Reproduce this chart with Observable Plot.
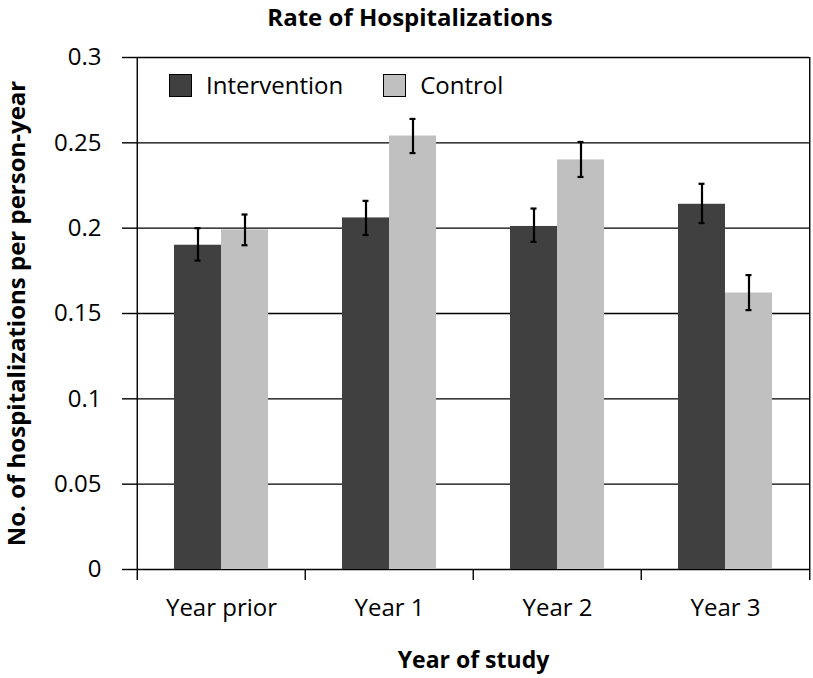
<!DOCTYPE html>
<html><head><meta charset="utf-8">
<script src="https://cdn.jsdelivr.net/npm/d3@7"></script>
<script src="https://cdn.jsdelivr.net/npm/@observablehq/plot@0.6"></script>
<style>
body{margin:0;background:#fff;font-family:"Open Sans",sans-serif;color:#000;}
#wrap{position:relative;width:813px;height:678px;overflow:hidden;}
#title{position:absolute;left:0;top:2px;width:813px;box-sizing:border-box;padding-left:7px;text-align:center;font-weight:bold;font-size:24px;line-height:30px;}
#legend{position:absolute;left:169px;top:72px;display:flex;align-items:center;font-size:24px;line-height:26px;}
.sw{width:21px;height:21px;border:1.5px solid #000;margin-right:14px;}
.item{display:flex;align-items:center;margin-right:40px;}
</style></head><body>
<div id="wrap"><div id="chart"></div><div id="title">Rate of Hospitalizations</div><div id="legend"></div></div>
<script>
const categories = ["Year prior", "Year 1", "Year 2", "Year 3"];
const series = ["Intervention", "Control"];
const intervention = [0.190, 0.206, 0.201, 0.214];
const control = [0.199, 0.254, 0.240, 0.162];
const interventionLow = [0.181, 0.196, 0.192, 0.203];
const interventionHigh = [0.200, 0.216, 0.2115, 0.226];
const controlLow = [0.190, 0.244, 0.230, 0.152];
const controlHigh = [0.208, 0.264, 0.2505, 0.1725];
const yTicks = [0, 0.05, 0.1, 0.15, 0.2, 0.25, 0.3];
const yTickLabels = ["0", "0.05", "0.1", "0.15", "0.2", "0.25", "0.3"];
const colors = ["#404040", "#c0c0c0"];
const yLabel = "No. of hospitalizations per person-year";
const xLabel = "Year of study";

const data = categories.flatMap((c, i) => [
  {year: c, group: series[0], value: intervention[i], lo: interventionLow[i], hi: interventionHigh[i]},
  {year: c, group: series[1], value: control[i], lo: controlLow[i], hi: controlHigh[i]}
]);

const W = 813, H = 678, mL = 136, mR = 3, mT = 57, mB = 109;
const band = (W - mL - mR) / categories.length;
const font = '"Open Sans", sans-serif';

const chart = Plot.plot({
  width: W, height: H,
  marginLeft: mL, marginRight: mR, marginTop: mT, marginBottom: mB,
  style: {fontFamily: font, fontSize: "24px", color: "#000", background: "#fff", overflow: "visible"},
  fx: {domain: categories, padding: 0, axis: null, label: null},
  x: {domain: series, paddingInner: 0, paddingOuter: 0.76, axis: null, label: null},
  y: {domain: [0, 0.3], axis: null, label: null},
  color: {domain: series, range: colors},
  marks: [
    Plot.gridY({ticks: yTicks, stroke: "#000", strokeOpacity: 1, strokeWidth: 1.4}),
    Plot.barY(data, {fx: "year", x: "group", y: "value", fill: "group"}),
    Plot.ruleX(data, {fx: "year", x: "group", y1: "lo", y2: "hi", stroke: "#000", strokeWidth: 2.2}),
    Plot.tickY(data, {fx: "year", x: "group", y: "lo", stroke: "#000", strokeWidth: 2.2, insetLeft: 20.5, insetRight: 20.5}),
    Plot.tickY(data, {fx: "year", x: "group", y: "hi", stroke: "#000", strokeWidth: 2.2, insetLeft: 20.5, insetRight: 20.5}),
    Plot.gridFx({ticks: [categories[0]], dx: -band / 2, stroke: "#000", strokeOpacity: 1, strokeWidth: 1.4}),
    Plot.gridFx({ticks: [categories[categories.length - 1]], dx: band / 2, stroke: "#000", strokeOpacity: 1, strokeWidth: 1.4}),
    Plot.axisFx({anchor: "bottom", ticks: categories, tickSize: 11, dx: -band / 2, tickFormat: () => "", label: null, strokeWidth: 1.4}),
    Plot.axisFx({anchor: "bottom", ticks: [categories[categories.length - 1]], tickSize: 11, dx: band / 2, tickFormat: () => "", label: null, strokeWidth: 1.4}),
    Plot.axisFx({anchor: "bottom", ticks: categories, tickSize: 0, tickPadding: 29, fontSize: 24, label: null}),
    Plot.axisFx({anchor: "bottom", ticks: [], label: xLabel, labelAnchor: "center", labelOffset: 98, labelArrow: "none", fontWeight: "bold", fontSize: 23}),
    Plot.axisY({ticks: yTicks, tickFormat: d => yTickLabels[yTicks.indexOf(d)], tickSize: 15, tickPadding: 21, strokeWidth: 1.4, fontSize: 24, label: null}),
    Plot.axisY({ticks: [], label: yLabel, labelAnchor: "center", labelOffset: 130, labelArrow: "none", fontWeight: "bold", fontSize: 24})
  ]
});
document.getElementById("chart").appendChild(chart);

const legend = d3.select("#legend");
series.forEach((s, i) => {
  const item = legend.append("div").attr("class", "item");
  item.append("div").attr("class", "sw").style("background", colors[i]);
  item.append("span").text(s);
});
</script>
</body></html>
